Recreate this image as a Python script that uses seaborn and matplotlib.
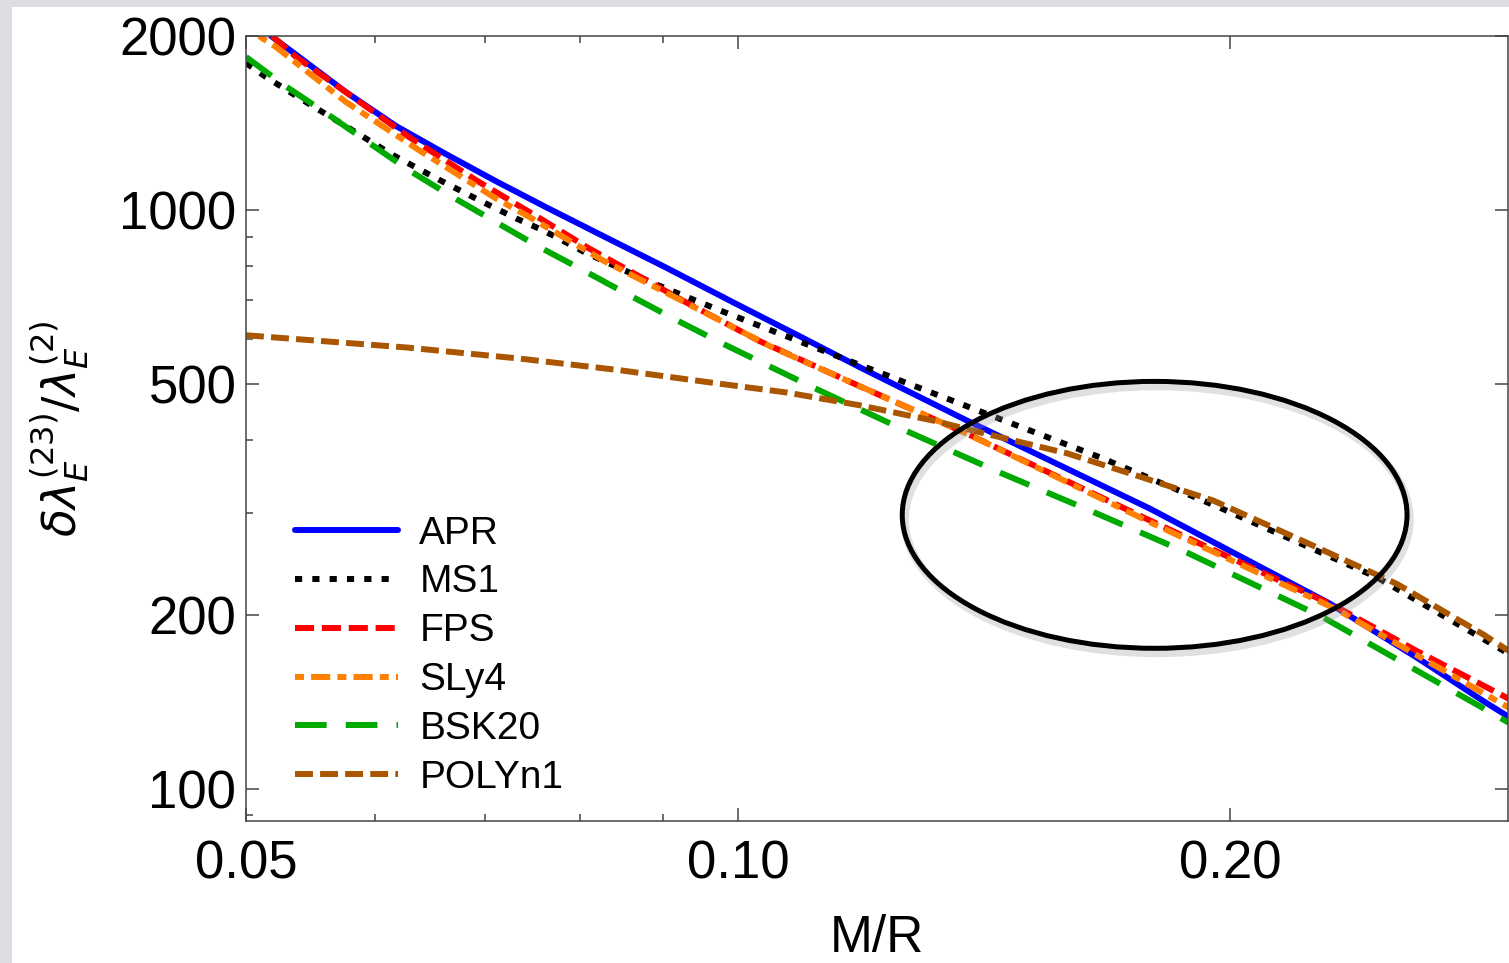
import numpy as np
import pandas as pd
import matplotlib
matplotlib.use("Agg")
import matplotlib.pyplot as plt
import seaborn as sns
from matplotlib.patches import Ellipse, Rectangle
from matplotlib.ticker import FixedLocator, FixedFormatter, NullFormatter

# values (log-log), one pair of lists per EOS
apr_x = [0.0518, 0.05756, 0.06177, 0.06628, 0.07112, 0.07631, 0.08234, 0.09051,
         0.09934, 0.10917, 0.11879, 0.1381, 0.1787, 0.2303, 0.2604, 0.2857, 0.2965]
apr_y = [2000, 1600, 1398, 1250, 1122, 1012, 908, 794,
         693, 605, 535, 433, 305, 209, 168.5, 142, 133]

ms1_x = [0.050, 0.05143, 0.05441, 0.05781, 0.06151, 0.06535, 0.06943, 0.07315,
         0.07599, 0.08084, 0.08873, 0.09752, 0.10716, 0.11548, 0.1413, 0.1666,
         0.1973, 0.2461, 0.2965]
ms1_y = [1796, 1698, 1538, 1386, 1245, 1136, 1041, 968,
         923, 842, 748, 671, 605, 557, 447, 374,
         306, 232, 171]

fps_x = [0.05187, 0.05365, 0.05732, 0.06291, 0.06914, 0.07599, 0.08084, 0.09296,
         0.1031, 0.11879, 0.1381, 0.1787, 0.2327, 0.2604, 0.2965]
fps_y = [2000, 1840, 1613, 1338, 1127, 961, 863, 693,
         594, 496, 411, 291, 206, 173, 143]

sly4_x = [0.05092, 0.05216, 0.05756, 0.0638, 0.07091, 0.0746, 0.08268, 0.09309,
          0.10463, 0.11548, 0.1381, 0.1787, 0.2327, 0.2965]
sly4_y = [2000, 1914, 1538, 1270, 1053, 972, 819, 690,
          582, 514, 411, 289, 204, 138]

bsk20_x = [0.050, 0.05275, 0.05596, 0.05938, 0.06291, 0.06693, 0.07132, 0.07546,
           0.08084, 0.0859, 0.09178, 0.09752, 0.11117, 0.1269, 0.14467, 0.16498,
           0.18831, 0.228, 0.2965]
bsk20_y = [1840, 1645, 1472, 1311, 1172, 1053, 949, 866,
           781, 712, 645, 591, 494, 415, 352, 301,
           256, 198, 130]

poly_x = [0.050, 0.06273, 0.07356, 0.08469, 0.09611, 0.10716, 0.11879, 0.13164,
          0.14325, 0.15904, 0.17699, 0.19537, 0.22179, 0.25312, 0.28573, 0.2965]
poly_y = [608, 579, 554, 529, 504, 484, 460, 433,
          408, 380, 345, 315, 268, 226, 185, 173]

eos_names = ["APR", "MS1", "FPS", "SLy4", "BSK20", "POLYn1"]
eos_colors = ["#0000ff", "#000000", "#ff0000", "#ff8000", "#00aa00", "#aa5500"]
eos_dashes = ["", (1.2, 1.7), (3.2, 1.3), (1.5, 1.2, 3.2, 1.2), (5.3, 3.2), (3.0, 1.2)]

y_ticks = [100, 200, 500, 1000, 2000]
y_minor = [90, 300, 400, 600, 700, 800, 900]
x_ticks = [0.05, 0.10, 0.20]
x_tick_labels = ["0.05", "0.10", "0.20"]
x_minor = [0.06, 0.07, 0.08, 0.09]

series = [(apr_x, apr_y), (ms1_x, ms1_y), (fps_x, fps_y),
          (sly4_x, sly4_y), (bsk20_x, bsk20_y), (poly_x, poly_y)]
frames = []
for name, (xs, ys) in zip(eos_names, series):
    frames.append(pd.DataFrame({"MR": xs, "ratio": ys, "eos": name}))
df = pd.concat(frames, ignore_index=True)

sns.set_style("ticks")
plt.rcParams["font.family"] = ["Liberation Sans", "DejaVu Sans"]
plt.rcParams["mathtext.fontset"] = "dejavusans"
for key in ["text.color", "axes.labelcolor", "xtick.color", "ytick.color"]:
    plt.rcParams[key] = "black"

LW = 4.3

W, H = 1509, 963
fig = plt.figure(figsize=(W / 100, H / 100), dpi=100)
fig.patch.set_facecolor("#dcdde0")
fig.patches.append(Rectangle((12 / W, 0), 1, 1 - 7 / H, transform=fig.transFigure,
                             facecolor="white", edgecolor="none", zorder=-10))

ax = fig.add_axes([246 / W, 1 - 821 / H, (1508 - 246) / W, (821 - 36) / H])
ax.set_facecolor("white")

sns.lineplot(data=df, x="MR", y="ratio", hue="eos", style="eos",
             hue_order=eos_names, style_order=eos_names,
             palette=dict(zip(eos_names, eos_colors)),
             dashes=dict(zip(eos_names, eos_dashes)),
             estimator=None, sort=False, linewidth=LW, ax=ax)
for ln in ax.get_lines():
    ln.set_linewidth(LW)
    ln.set_solid_joinstyle("round")

ax.set_xscale("log")
ax.set_yscale("log")
ax.set_xlim(0.05, 0.296)
ax.set_ylim(88, 2000)

ax.xaxis.set_major_locator(FixedLocator(x_ticks))
ax.xaxis.set_major_formatter(FixedFormatter(x_tick_labels))
ax.xaxis.set_minor_locator(FixedLocator(x_minor))
ax.xaxis.set_minor_formatter(NullFormatter())
ax.yaxis.set_major_locator(FixedLocator(y_ticks))
ax.yaxis.set_major_formatter(FixedFormatter([str(v) for v in y_ticks]))
ax.yaxis.set_minor_locator(FixedLocator(y_minor))
ax.yaxis.set_minor_formatter(NullFormatter())

ax.tick_params(which="both", direction="in", top=True, right=True,
               color="#444444", width=1.1, labelsize=38, labelcolor="black")
ax.tick_params(which="major", length=9.5)
ax.tick_params(which="minor", length=4.7, right=False)
ax.tick_params(axis="y", pad=7)
ax.tick_params(axis="x", pad=13)
for sp in ax.spines.values():
    sp.set_visible(True)
    sp.set_color("#444444")
    sp.set_linewidth(1.1)

ax.set_xlabel("M/R", fontsize=37, labelpad=18)
ax.set_ylabel(r"$\delta\lambda_E^{(23)}/\lambda_E^{(2)}$", fontsize=33, labelpad=20)

sns.move_legend(ax, "upper left", bbox_to_anchor=(0.0388, 0.389), frameon=False,
                title=None, fontsize=28, handlelength=2.65, handletextpad=0.55,
                labelspacing=0.33, borderpad=0, borderaxespad=0)
leg = ax.get_legend()
for h in leg.legend_handles:
    h.set_linewidth(LW)

# circled region with a soft shadow
ax.add_patch(Ellipse((0.722, 0.384), 0.40, 0.34, transform=ax.transAxes, fill=False,
                     edgecolor="#999999", lw=6, alpha=0.3, zorder=5))
ax.add_patch(Ellipse((0.720, 0.390), 0.40, 0.34, transform=ax.transAxes, fill=False,
                     edgecolor="black", lw=3.6, zorder=6))

fig.savefig("out.png", dpi=100, facecolor=fig.get_facecolor())
